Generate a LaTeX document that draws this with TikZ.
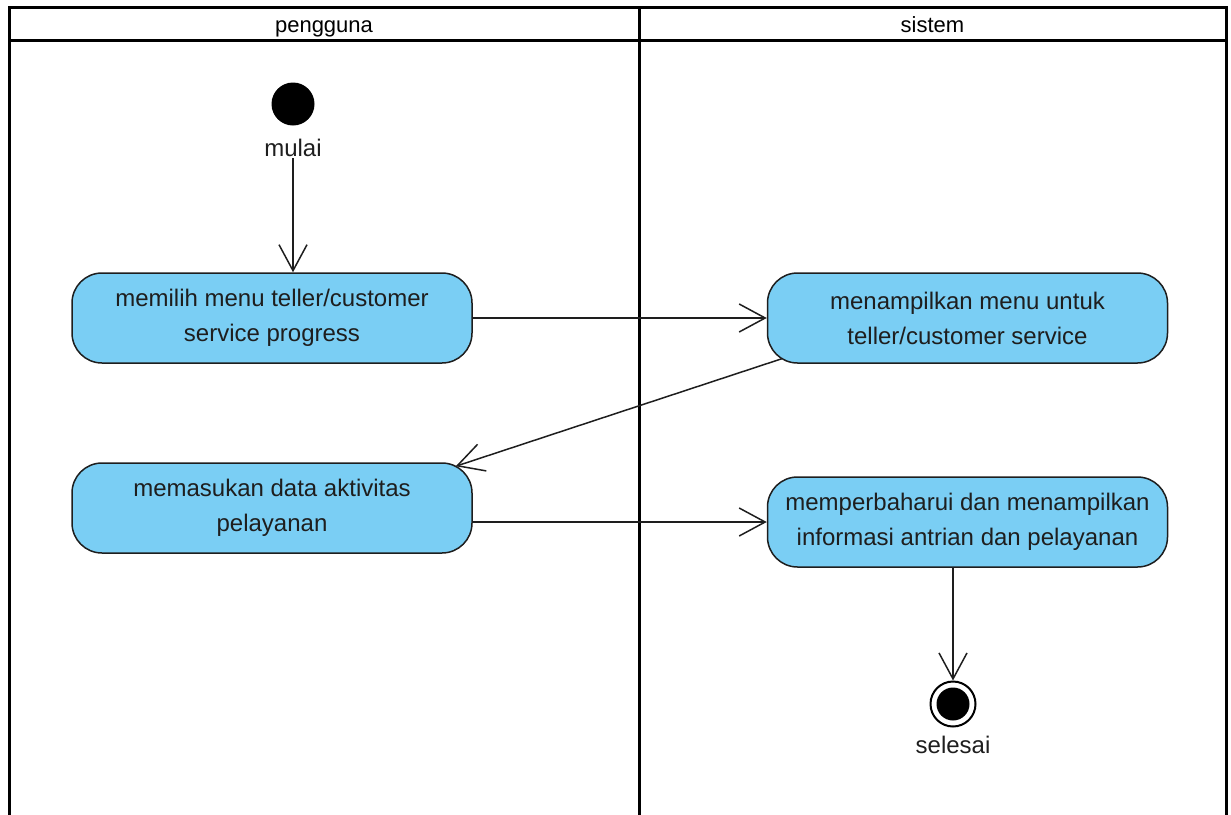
\documentclass[tikz,border=0pt]{standalone}
\usepackage{fontspec}
\setmainfont{Liberation Sans}
\usetikzlibrary{arrows.meta,calc}
\definecolor{actfill}{RGB}{122,206,244}
\definecolor{ink}{RGB}{30,30,30}
\begin{document}
\begin{tikzpicture}[x=1pt,y=-1pt,
  lane/.style={line width=3pt, draw=black},
  header/.style={font=\fontsize{22}{26}\selectfont, inner sep=0pt, text=black, anchor=base},
  action/.style={draw=ink, line width=1.5pt, fill=actfill, rounded corners=30pt,
    minimum width=400pt, minimum height=90pt, align=center, inner sep=0pt,
    font=\fontsize{24}{35}\selectfont, text=ink},
  caption/.style={font=\fontsize{24}{28}\selectfont, inner sep=1pt, text=ink},
  flow/.style={line width=1.5pt, draw=ink,
    -{Straight Barb[length=26pt,width=28pt,line width=1.5pt]}}]
\useasboundingbox (0,0) rectangle (1231,814);
\clip (0,0) rectangle (1231,814);

% swimlane frame
\draw[lane] (9,830) -- (9,7) -- (1226,7) -- (1226,830);
\draw[lane] (9,40) -- (1226,40);
\draw[lane] (639,7) -- (639,830);
\node[header] (hp) at (324,32) {pengguna};
\node[header] (hs) at (932.5,32) {sistem};

% initial node
\node[circle, fill=black, minimum size=43pt, inner sep=0pt] (start) at (293,104) {};
\node[caption] (mulai) at (293,148) {mulai};

% actions
\node[action] (b1) at (272,318) {memilih menu teller/customer\\service progress};
\node[action] (b2) at (967.5,318) {menampilkan menu untuk\\teller/customer service};
\node[action] (b3) at (272,508) {memasukan data aktivitas\\pelayanan};
\node[action] (b4) at (967.5,522) {memperbaharui dan menampilkan\\informasi antrian dan pelayanan};

% final node
\node[circle, draw=black, line width=2pt, fill=white, minimum size=45pt, inner sep=0pt] (stop) at (953,704) {};
\node[circle, fill=black, minimum size=33pt, inner sep=0pt] (stopdot) at (stop) {};
\node[caption] (selesai) at (953,745) {selesai};

% control flows
\draw[flow] (mulai.south) -- (mulai.south |- b1.north);
\draw[flow] (b1.east) -- (b2.west);
\draw[flow] ([xshift=15pt,yshift=5pt]b2.south west) -- ([xshift=-17pt,yshift=-4pt]b3.north east);
\draw[flow] (b4.west -| b3.east) -- (b4.west);
\draw[flow] (stop.north |- b4.south) -- (stop.north);
\end{tikzpicture}
\end{document}
